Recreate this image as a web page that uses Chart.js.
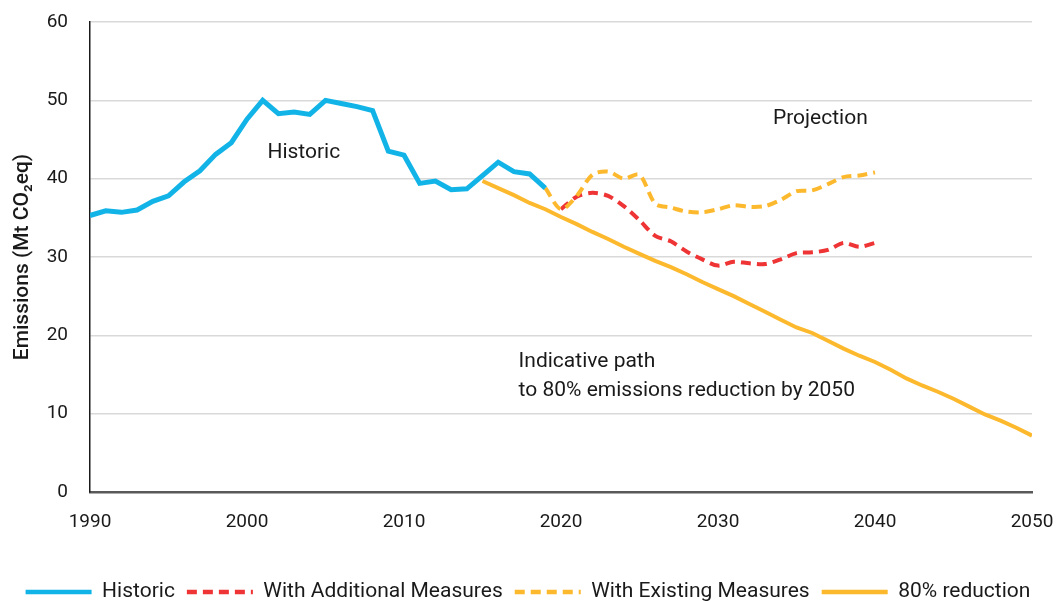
<!DOCTYPE html>
<html>
<head>
<meta charset="utf-8">
<script src="https://cdn.jsdelivr.net/npm/chart.js@4"></script>
<style>
  html, body { margin: 0; padding: 0; background: #fff; }
  #wrap { width: 1056px; height: 601px; }
</style>
</head>
<body>
<div id="wrap"><canvas id="emissionsChart"></canvas></div>
<script>
// data (Mt CO2eq)
const historicStart = 1990;
const historic = [35.3, 35.9, 35.7, 36.0, 37.1, 37.8, 39.6, 41.0, 43.1, 44.6,
                  47.6, 50.0, 48.3, 48.5, 48.2, 50.0, 49.6, 49.2, 48.7, 43.5,
                  43.0, 39.4, 39.7, 38.6, 38.7, 40.4, 42.1, 40.9, 40.6, 38.8];

const wamStart = 2020;
const withAdditional = [36.1, 37.7, 38.2, 37.8, 36.5, 34.7, 32.7, 32.0, 30.7, 29.7,
                        28.9, 29.4, 29.2, 29.1, 29.7, 30.5, 30.6, 30.9, 31.8, 31.3, 31.8];

const wemStart = 2019;
const withExisting = [38.8, 36.1, 37.8, 40.5, 40.9, 40.0, 40.5, 36.8, 36.3, 35.8, 35.7,
                      36.1, 36.6, 36.4, 36.5, 37.3, 38.4, 38.5, 39.3, 40.2, 40.4, 40.8];

const pathStart = 2015;
const reduction80 = [39.7, 38.8, 37.9, 36.9, 36.1, 35.1, 34.2, 33.2, 32.3, 31.3,
                     30.4, 29.5, 28.7, 27.8, 26.8, 25.9, 25.0, 24.0, 23.0, 22.0,
                     21.0, 20.3, 19.3, 18.3, 17.4, 16.6, 15.6, 14.5, 13.6, 12.8,
                     11.9, 10.9, 9.9, 9.1, 8.2, 7.2];

const xTicks = [1990, 2000, 2010, 2020, 2030, 2040, 2050];
const yTicks = [0, 10, 20, 30, 40, 50, 60];

// text notes placed on the plot in data coordinates
const notes = [
    { text: 'Historic', x: 2001.3, y: 43.3 },
    { text: 'Projection', x: 2033.5, y: 47.6 },
    { text: 'Indicative path', x: 2017.3, y: 16.6 },
    { text: 'to 80% emissions reduction by 2050', x: 2017.3, y: 12.9 }
];

const FONT = 'Roboto, "DejaVu Sans", sans-serif';

function toPoints(start, values) {
    return values.map((v, i) => ({ x: start + i, y: v }));
}

const notesPlugin = {
    id: 'notes',
    afterDatasetsDraw(chart) {
        const { ctx, scales } = chart;
        ctx.save();
        ctx.font = '21px ' + FONT;
        ctx.fillStyle = '#1a1a1a';
        ctx.textAlign = 'left';
        ctx.textBaseline = 'middle';
        notes.forEach(n => {
            ctx.fillText(n.text, scales.x.getPixelForValue(n.x), scales.y.getPixelForValue(n.y));
        });
        ctx.restore();
    }
};

const ctx = document.getElementById('emissionsChart').getContext('2d');

new Chart(ctx, {
    type: 'line',
    data: {
        datasets: [
            {
                label: 'Historic',
                data: toPoints(historicStart, historic),
                borderColor: '#12b4e8',
                borderWidth: 5,
                pointRadius: 0,
                tension: 0,
                order: 1
            },
            {
                label: 'With Additional Measures',
                data: toPoints(wamStart, withAdditional),
                borderColor: '#ee3434',
                borderWidth: 4,
                borderDash: [10, 6],
                pointRadius: 0,
                tension: 0.3,
                order: 3
            },
            {
                label: 'With Existing Measures',
                data: toPoints(wemStart, withExisting),
                borderColor: '#fdb92e',
                borderWidth: 4,
                borderDash: [10, 6],
                pointRadius: 0,
                tension: 0.3,
                order: 2
            },
            {
                label: '80% reduction',
                data: toPoints(pathStart, reduction80),
                borderColor: '#fdb92e',
                borderWidth: 4,
                pointRadius: 0,
                tension: 0,
                order: 4
            }
        ]
    },
    options: {
        responsive: true,
        maintainAspectRatio: false,
        animation: false,
        layout: { padding: { left: 0, right: 0, top: 22, bottom: -11.5 } },
        scales: {
            x: {
                type: 'linear',
                min: 1990,
                max: 2050,
                afterBuildTicks: (scale) => { scale.ticks = xTicks.map(v => ({ value: v })); },
                afterFit: (scale) => {
                    scale.height = 77.5;
                    scale.paddingLeft = 0;
                    scale.paddingRight = 24;
                },
                grid: { display: false, drawTicks: false },
                border: { color: '#595959', width: 2.5 },
                ticks: {
                    color: '#1a1a1a',
                    font: { family: FONT, size: 19 },
                    padding: 19,
                    maxRotation: 0,
                    callback: v => String(v)
                }
            },
            y: {
                min: 0,
                max: 60,
                afterBuildTicks: (scale) => { scale.ticks = yTicks.map(v => ({ value: v })); },
                afterFit: (scale) => {
                    scale.width = 90;
                    scale.paddingTop = 0;
                    scale.paddingBottom = 0;
                },
                grid: { color: '#d9d9d9', lineWidth: 1.5, drawTicks: false },
                border: { color: '#1a1a1a', width: 1.5 },
                ticks: {
                    color: '#1a1a1a',
                    font: { family: FONT, size: 19 },
                    padding: 22
                },
                title: {
                    display: true,
                    text: 'Emissions (Mt CO\u2082eq)',
                    color: '#1a1a1a',
                    font: { family: FONT, size: 21, weight: '500' },
                    padding: { top: 10, bottom: 0 }
                }
            }
        },
        plugins: {
            legend: {
                position: 'bottom',
                labels: {
                    usePointStyle: true,
                    pointStyleWidth: 66,
                    boxHeight: 10,
                    color: '#1a1a1a',
                    font: { family: FONT, size: 21 },
                    padding: 12,
                    sort: (a, b) => a.datasetIndex - b.datasetIndex,
                    generateLabels: (chart) => {
                        const items = Chart.defaults.plugins.legend.labels.generateLabels(chart);
                        items.forEach(it => {
                            const ds = chart.data.datasets[it.datasetIndex];
                            it.pointStyle = 'line';
                            it.lineWidth = 4.5;
                            it.strokeStyle = ds.borderColor;
                            it.lineDash = ds.borderDash || [];
                        });
                        return items;
                    }
                }
            },
            tooltip: { enabled: false }
        }
    },
    plugins: [notesPlugin]
});
</script>
</body>
</html>
